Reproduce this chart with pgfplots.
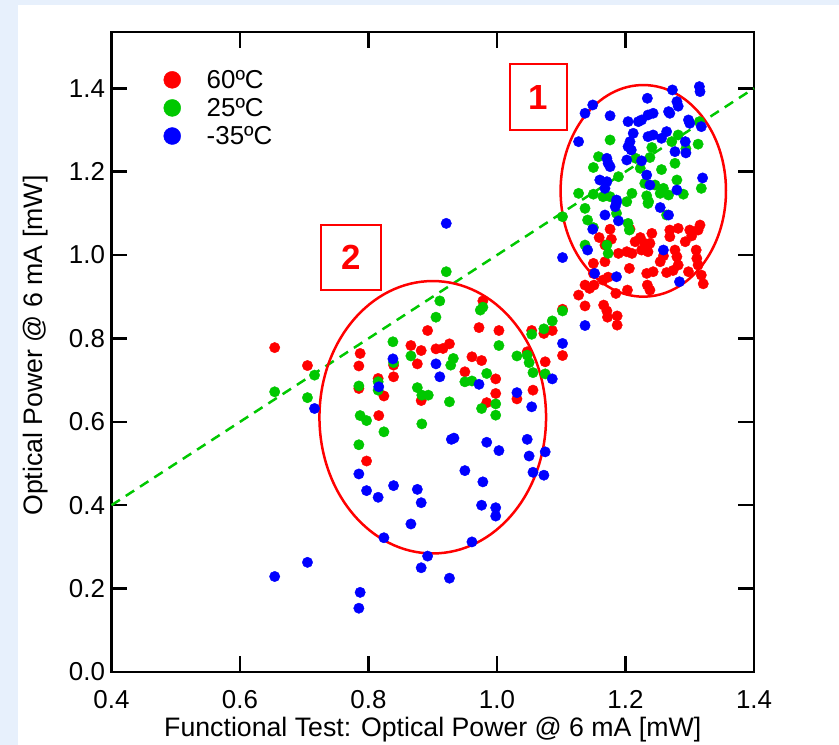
\documentclass[border=0pt]{standalone}
\usepackage{pgfplots}
\pgfplotsset{compat=1.18}
\usepackage{fontspec}
\setmainfont{Liberation Sans}
\definecolor{bgblue}{RGB}{231,240,252}
\definecolor{mygreen}{RGB}{0,200,0}
\definecolor{myred}{RGB}{255,0,0}
\definecolor{myblue}{RGB}{0,0,255}
\begin{document}
\begin{tikzpicture}
\fill[bgblue] (-111.5bp,-73bp) rectangle (727.5bp,672bp);
\fill[white] (-93.5bp,-73bp) rectangle (727.5bp,667bp);
\begin{axis}[
  scale only axis, width=642.5bp, height=640bp,
  xmin=0.4, xmax=1.4, ymin=0, ymax=1.535,
  xtick={0.4,0.6,0.8,1.0,1.2,1.4},
  ytick={0,0.2,0.4,0.6,0.8,1.0,1.2,1.4},
  minor tick num=0,
  tick align=inside, major tick length=16bp,
  axis line style={black, line width=2.5bp},
  every tick/.style={black, line width=2.5bp},
  /pgf/number format/fixed, /pgf/number format/fixed zerofill,
  /pgf/number format/precision=1,
  /pgf/number format/assume math mode=true,
  ticklabel style={font=\fontsize{26}{30}\selectfont},
  xticklabel style={anchor=base, yshift=-36bp},
  yticklabel style={anchor=east, xshift=-3bp},
  xlabel={Functional Test: Optical Power @ 6 mA [mW]},
  ylabel={Optical Power @ 6 mA [mW]},
  label style={font=\fontsize{26.8}{30}\selectfont},
  xlabel style={at={(axis description cs:0.5,-0.1)}, anchor=base},
  ylabel style={at={(axis description cs:-0.108,0.51)}, anchor=base},
  legend style={at={(axis cs:0.481,1.449)}, anchor=north west, draw=none, fill=none,
    font=\fontsize{26}{30}\selectfont, row sep=4.5bp, inner sep=0pt,
    /tikz/every odd column/.append style={column sep=24bp}},
  legend cell align=left,
  legend image code/.code={\draw[#1, mark size=8.5bp] plot coordinates {(0bp,0bp)};},
  clip=false,
]
\addplot[only marks, mark=*, mark size=5.2bp, color=myred] coordinates {
(0.654,0.778) (0.705,0.735) (0.892,0.819) (0.866,0.783) (0.882,0.771) (0.905,0.775) (0.916,0.776) (0.926,0.787) (0.787,0.764) (0.839,0.736) (0.876,0.739) (0.785,0.734) (0.839,0.708) (0.815,0.704) (0.785,0.680) (0.824,0.662) (0.882,0.651) (0.816,0.615) (0.797,0.506) (0.978,0.890) (1.102,0.870) (0.972,0.826) (1.003,0.819) (1.054,0.819) (1.073,0.812) (1.086,0.819) (1.102,0.759) (0.961,0.756) (0.976,0.747) (1.047,0.768) (1.075,0.744) (0.950,0.720) (0.998,0.703) (1.056,0.676) (0.998,0.668) (1.031,0.655) (0.984,0.646)
(1.176,1.062) (1.159,1.042) (1.207,1.062) (1.168,1.024) (1.178,1.038) (1.215,1.032) (1.223,1.042) (1.230,1.028) (1.238,1.028) (1.241,1.052) (1.235,1.008) (1.225,1.012) (1.189,1.004) (1.202,1.008) (1.210,1.004) (1.269,1.060) (1.282,1.064) (1.269,1.044) (1.300,1.060) (1.303,1.046) (1.316,1.072) (1.313,1.060) (1.293,1.032) (1.277,1.012) (1.280,0.996) (1.282,0.976) (1.254,0.984) (1.259,0.998) (1.310,1.012) (1.311,0.992) (1.313,0.976) (1.206,0.968) (1.233,0.956) (1.243,0.960) (1.264,0.958) (1.274,0.963) (1.298,0.960) (1.318,0.952) (1.321,0.931) (1.234,0.928) (1.238,0.916) (1.203,0.916) (1.185,0.908) (1.165,0.940) (1.173,0.947) (1.150,0.980) (1.150,0.956) (1.137,0.928) (1.144,0.920) (1.151,0.928) (1.127,0.904) (1.137,0.878) (1.166,0.880) (1.171,0.866) (1.172,0.851) (1.187,0.854) (1.187,0.832) (1.168,0.984)
};
\addlegendentry{60ºC}
\addplot[only marks, mark=*, mark size=5.2bp, color=mygreen] coordinates {
(0.716,0.712) (0.654,0.672) (0.705,0.658) (0.911,0.890) (0.905,0.851) (0.838,0.792) (0.866,0.758) (0.839,0.742) (0.932,0.752) (0.928,0.736) (0.815,0.696) (0.815,0.676) (0.785,0.686) (0.876,0.682) (0.883,0.664) (0.893,0.664) (0.926,0.648) (0.787,0.615) (0.797,0.603) (0.883,0.595) (0.824,0.576) (0.785,0.545) (0.921,0.960) (0.974,0.868) (0.978,0.875) (1.102,0.866) (1.086,0.842) (1.054,0.810) (1.073,0.823) (1.003,0.783) (1.031,0.758) (1.047,0.760) (1.050,0.742) (0.984,0.716) (1.056,0.718) (1.075,0.715) (0.950,0.696) (0.961,0.698) (0.998,0.643) (0.976,0.632) (0.998,0.616) (1.102,1.092)
(1.137,1.112) (1.141,1.084) (1.150,1.066) (1.171,1.024) (1.173,1.004) (1.137,1.024) (1.204,1.076) (1.206,1.060) (1.186,1.100) (1.236,1.128) (1.264,1.096) (1.315,1.320) (1.282,1.288) (1.272,1.272) (1.313,1.266) (1.176,1.276) (1.241,1.258) (1.238,1.234) (1.158,1.236) (1.150,1.210) (1.216,1.232) (1.223,1.208) (1.277,1.220) (1.256,1.205) (1.189,1.188) (1.280,1.180) (1.230,1.172) (1.246,1.168) (1.259,1.160) (1.254,1.148) (1.267,1.144) (1.127,1.148) (1.150,1.146) (1.318,1.160) (1.165,1.140) (1.176,1.140) (1.210,1.148) (1.202,1.128) (1.233,1.142) (1.235,1.124) (1.290,1.146) (1.294,1.255)
};
\addlegendentry{25ºC}
\addplot[only marks, mark=*, mark size=5.2bp, color=myblue] coordinates {
(0.716,0.632) (0.705,0.263) (0.654,0.229) (0.838,0.751) (0.905,0.739) (0.911,0.708) (0.816,0.684) (0.929,0.558) (0.933,0.561) (0.785,0.475) (0.797,0.435) (0.839,0.447) (0.815,0.419) (0.876,0.438) (0.882,0.406) (0.866,0.355) (0.824,0.322) (0.892,0.278) (0.882,0.250) (0.926,0.225) (0.787,0.191) (0.785,0.153) (1.102,0.788) (1.086,0.703) (0.972,0.690) (1.031,0.670) (1.054,0.636) (0.984,0.551) (1.003,0.531) (1.047,0.558) (1.050,0.518) (1.075,0.528) (1.056,0.479) (1.073,0.472) (0.950,0.483) (0.978,0.456) (0.976,0.400) (0.998,0.394) (0.998,0.374) (0.961,0.312) (0.921,1.076) (1.102,0.994) (1.137,0.831)
(1.141,1.012) (1.149,1.062) (1.152,0.956) (1.186,0.948) (1.259,1.012) (1.284,0.936) (1.168,1.096) (1.189,1.082) (1.184,1.116) (1.186,1.126) (1.254,1.114) (1.267,1.096) (1.315,1.404) (1.316,1.392) (1.273,1.396) (1.280,1.368) (1.282,1.357) (1.234,1.376) (1.149,1.360) (1.137,1.340) (1.176,1.334) (1.267,1.344) (1.269,1.340) (1.298,1.324) (1.300,1.316) (1.243,1.340) (1.235,1.336) (1.225,1.324) (1.220,1.320) (1.204,1.320) (1.127,1.272) (1.212,1.292) (1.207,1.272) (1.204,1.260) (1.209,1.252) (1.202,1.228) (1.235,1.284) (1.243,1.288) (1.264,1.296) (1.256,1.280) (1.318,1.308) (1.293,1.272) (1.277,1.248) (1.294,1.245) (1.171,1.232) (1.173,1.220) (1.176,1.212) (1.225,1.226) (1.233,1.192) (1.238,1.168) (1.160,1.180) (1.171,1.176) (1.168,1.160) (1.320,1.185) (1.280,1.156) (1.186,1.132)
};
\addlegendentry{-35ºC}
\addplot[mygreen, line width=2.5bp, dash pattern=on 10bp off 7bp, forget plot] coordinates {(0.4,0.4) (1.4,1.4)};
\draw[myred, line width=2.5bp] (axis cs:1.2277,1.154) ellipse [x radius=82.7bp, y radius=105.8bp];
\draw[myred, line width=2.5bp] (axis cs:0.900,0.611) ellipse [x radius=113.3bp, y radius=136.2bp];
\node[draw=myred, line width=1.8bp, minimum width=57bp, minimum height=66bp, inner sep=0pt, text=myred, font=\fontsize{35}{40}\selectfont\bfseries] at (axis cs:1.0646,1.379) {1};
\node[draw=myred, line width=1.8bp, minimum width=60bp, minimum height=65bp, inner sep=0pt, text=myred, font=\fontsize{35}{40}\selectfont\bfseries] at (axis cs:0.7723,0.994) {2};
\end{axis}
\pgfresetboundingbox
\useasboundingbox (-111.5bp,-73bp) rectangle (727.5bp,672bp);
\end{tikzpicture}
\end{document}
